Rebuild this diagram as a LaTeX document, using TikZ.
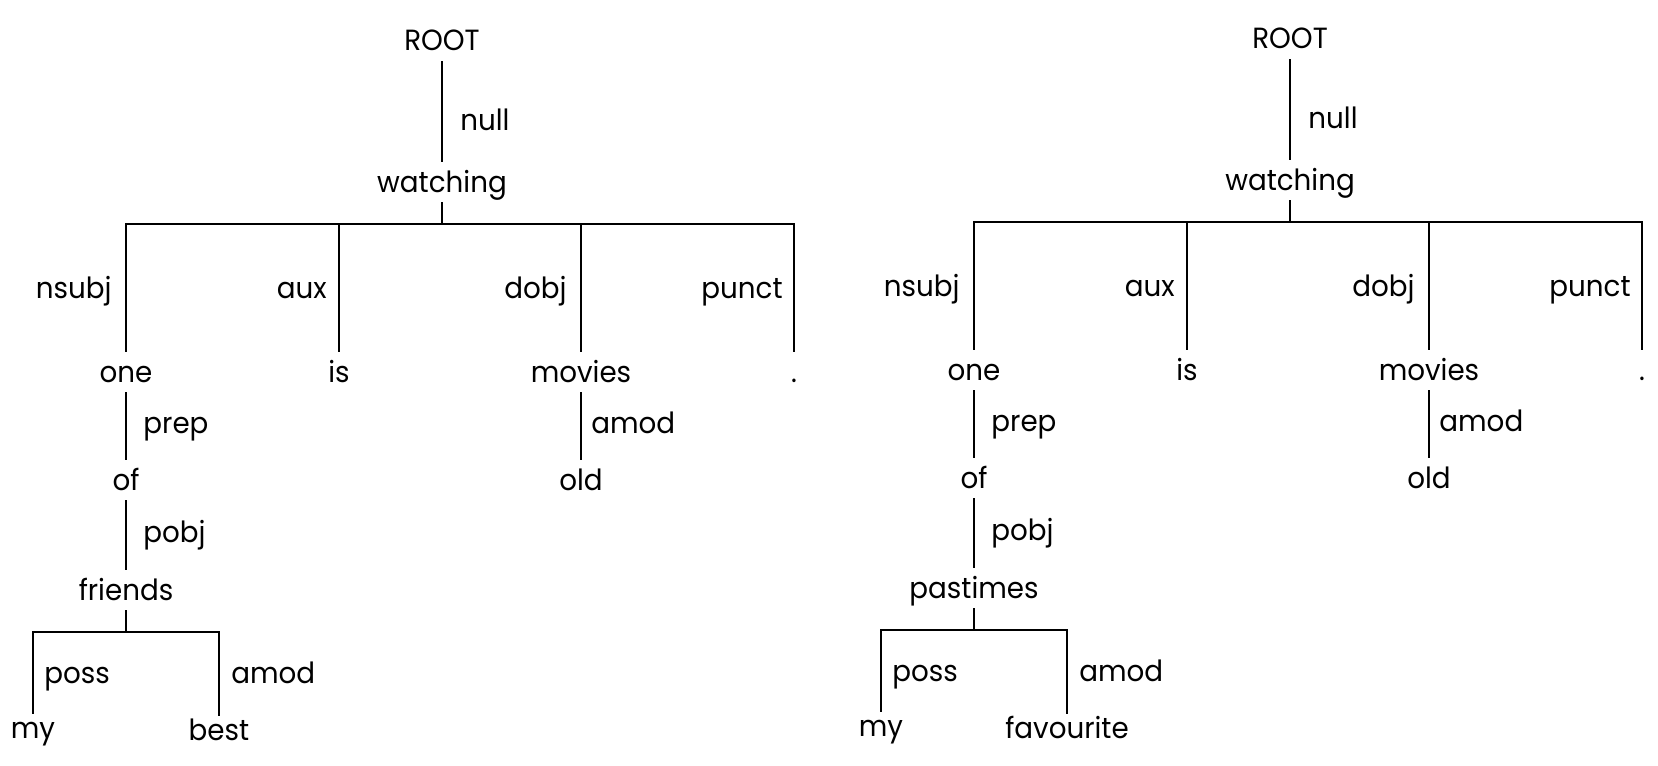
\documentclass[tikz,border=0pt]{standalone}
\usepackage{fontspec}
\setmainfont{Poppins}[FakeStretch=0.95]
\tikzset{
  wd/.style={font=\fontsize{14.6}{17}\selectfont, text height=13pt, text depth=3pt,
             inner ysep=2pt, inner xsep=1pt, anchor=base},
  leaf/.style={wd, text height=10pt},
  lbw/.style={font=\fontsize{14.6}{17}\selectfont, inner sep=0pt, anchor=base west},
  lbe/.style={font=\fontsize{14.6}{17}\selectfont, inner sep=0pt, anchor=base east},
  edge/.style={line width=0.8pt, black}
}
\newcommand\deptree[4]{%
\begin{scope}[shift={#2}]
  % words
  \node[wd] (#1root)  at (442,51)  {ROOT};
  \node[wd] (#1watch) at (442,192) {watching};
  \node[wd] (#1one)   at (126,382) {one};
  \node[wd] (#1is)    at (339,382) {is};
  \node[wd] (#1mov)   at (581,382) {movies};
  \node[wd] (#1dot)   at (794,382) {.};
  \node[wd] (#1of)    at (126,490) {of};
  \node[wd] (#1old)   at (581,490) {old};
  \node[wd] (#1fr)    at (126,600) {#3};
  \node[leaf] (#1my)    at (33,738)  {my};
  \node[leaf] (#1best)  at (219,740) {#4};
  % bar corners
  \coordinate (#1bar)  at (442,224);
  \coordinate (#1barb) at (126,632);
  % labels
  \node[lbw] (#1lnull)  at (460,130) {null};
  \node[lbe] (#1lnsubj) at (112,298) {nsubj};
  \node[lbe] (#1laux)   at (327,298) {aux};
  \node[lbe] (#1ldobj)  at (567,298) {dobj};
  \node[lbe] (#1lpunct) at (783,298) {punct};
  \node[lbw] (#1lprep)  at (143,433) {prep};
  \node[lbw] (#1lamodA) at (591,433) {amod};
  \node[lbw] (#1lpobj)  at (143,542) {pobj};
  \node[lbw] (#1lposs)  at (44,683)  {poss};
  \node[lbw] (#1lamodB) at (231,683) {amod};
  % connectors
  \draw[edge] (#1root.south) -- (#1watch.north);
  \draw[edge] (#1watch.south) -- (#1bar) -| (#1one.north);
  \draw[edge] (#1watch.south) -- (#1bar) -| (#1is.north);
  \draw[edge] (#1watch.south) -- (#1bar) -| (#1mov.north);
  \draw[edge] (#1watch.south) -- (#1bar) -| (#1dot.north);
  \draw[edge] (#1one.south) -- (#1of.north);
  \draw[edge] (#1of.south) -- (#1fr.north);
  \draw[edge] (#1mov.south) -- (#1old.north);
  \draw[edge] (#1fr.south) -- (#1barb) -| (#1my.north);
  \draw[edge] (#1fr.south) -- (#1barb) -| (#1best.north);
\end{scope}}
\begin{document}
\begin{tikzpicture}[x=0.5pt,y=-0.5pt]
  \fill[white] (0,0) rectangle (1658,765);
  \useasboundingbox (0,0) rectangle (1658,765);
  \deptree{L}{(0,0)}{friends}{best}
  \deptree{R}{(848,-2)}{pastimes}{favourite}
\end{tikzpicture}
\end{document}
